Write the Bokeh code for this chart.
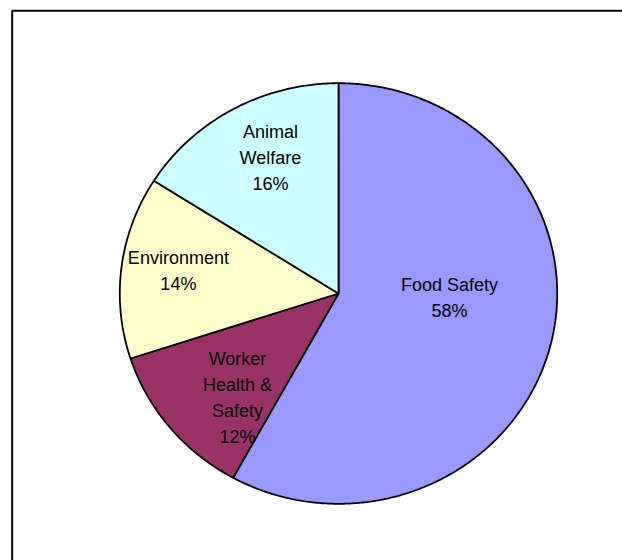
import numpy as np
from bokeh.plotting import figure
from bokeh.models import ColumnDataSource, Range1d
from bokeh.embed import file_html
from bokeh.resources import INLINE
from bokeh.core.properties import value

# ---- data ----
categories = ["Food Safety", "Worker\nHealth &\nSafety", "Environment", "Animal\nWelfare"]
shares = [58, 12, 14, 16]
colors = ["#9999FF", "#993366", "#FFFFCC", "#CCFFFF"]

# ---- layout ----
W, H = 622, 560
OFF = 0                    # page offset of the figure
CX, CY = 338, 293          # pie centre in page pixels
RX, RY = 218.7, 210.3      # pie radii (slightly elliptical, like the original)
label_r = [0.508, 0.677, 0.740, 0.715]      # label distance as fraction of radius
label_nudge = [12.0, 7.4, -1.2, -3.0]        # label angle nudge (degrees)

p = figure(width=W, height=H, output_backend="svg", toolbar_location=None,
           x_range=Range1d(OFF - CX, OFF + W - CX), y_range=Range1d(CY - OFF - H, CY - OFF),
           min_border=0, outline_line_color=None)
p.axis.visible = False
p.grid.visible = False
p.background_fill_color = "white"
p.border_fill_color = "white"

# chart frame (left and top edges visible; right/bottom run off the page)
p.quad(left=[11.7 - CX], right=[W + 40 - CX], top=[CY - 10.2], bottom=[CY - H - 40],
       fill_color=None, line_color="black", line_width=2)

total = float(sum(shares))
fr = np.array(shares) / total
ends = np.cumsum(fr)
starts = ends - fr
# angles measured from 12 o'clock, clockwise
xs, ys = [], []
for s, e in zip(starts, ends):
    t = np.linspace(s, e, max(int((e - s) * 720), 4))
    ang = np.pi / 2 - 2 * np.pi * t
    xs.append(list(np.concatenate([[0], RX * np.cos(ang), [0]])))
    ys.append(list(np.concatenate([[0], RY * np.sin(ang), [0]])))

src = ColumnDataSource(dict(xs=xs, ys=ys, color=colors))
p.patches("xs", "ys", source=src, fill_color="color", line_color="black", line_width=1.8)

mid = (starts + ends) / 2
lx, ly, lt = [], [], []
for m, r, n, c, s in zip(mid, label_r, label_nudge, categories, shares):
    a = np.pi / 2 - 2 * np.pi * m + np.radians(n)
    lx.append(r * RX * np.cos(a))
    ly.append(r * RY * np.sin(a))
    lt.append(f"{c}\n{s}%")

p.text(x=lx, y=ly, text=lt, text_align="center", text_baseline="middle",
       text_font=value("Liberation Sans"), text_font_size="18px",
       text_color="black", text_line_height=1.3)

open("out.html", "w").write(file_html(p, INLINE))
